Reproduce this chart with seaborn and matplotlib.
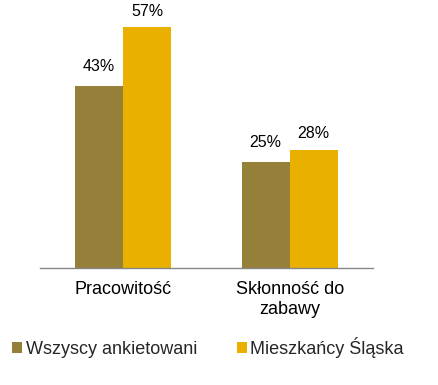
import matplotlib
matplotlib.use("Agg")
import matplotlib.pyplot as plt
import seaborn as sns
import pandas as pd
from matplotlib.patches import Patch

categories = ["Pracowitość", "Skłonność do\nzabawy"]
series_names = ["Wszyscy ankietowani", "Mieszkańcy Śląska"]
values_all = [43, 25]
values_silesia = [57, 28]
colors = ["#95803A", "#E9B000"]

df = pd.DataFrame({
    "category": categories * 2,
    "series": [series_names[0]] * 2 + [series_names[1]] * 2,
    "value": values_all + values_silesia,
})

sns.set_style("white")
plt.rcParams["font.family"] = ["Liberation Sans", "DejaVu Sans"]

fig = plt.figure(figsize=(4.38, 3.85), dpi=100)
ax = fig.add_axes([40 / 438, (385 - 268) / 385, (373 - 40) / 438, 268 / 385])

sns.barplot(data=df, x="category", y="value", hue="series", order=categories,
            hue_order=series_names, palette=colors, width=0.577, ax=ax,
            saturation=1, legend=False, linewidth=0, edgecolor="none")

ax.set_xlim(-0.5, 1.5)
ax.set_ylim(0, 63.4)
ax.set_xlabel("")
ax.set_ylabel("")
ax.set_yticks([])

for s in ["top", "right", "left"]:
    ax.spines[s].set_visible(False)
ax.spines["bottom"].set_color("#868686")
ax.spines["bottom"].set_linewidth(1)

ax.set_xticks([-0.5, 0.5, 1.5], minor=True)
ax.tick_params(axis="x", which="minor", length=5, color="#868686", width=1)
ax.tick_params(axis="x", which="major", length=0, pad=9, labelsize=13, labelcolor="#000000")
for lbl in ax.get_xticklabels():
    lbl.set_linespacing(1.3)

pads = [8.6, 6.0]
for i, cont in enumerate(ax.containers):
    ax.bar_label(cont, fmt="%d%%", padding=pads[i], fontsize=11.5, color="#000000")

handles = [Patch(facecolor=c, edgecolor="none") for c in colors]
fig.legend(handles, series_names, loc="center left",
           bbox_to_anchor=(12 / 438, (385 - 347) / 385),
           ncol=2, frameon=False, fontsize=13, handlelength=0.55, handleheight=0.55,
           handletextpad=0.2, columnspacing=2.2, borderaxespad=0, borderpad=0)

fig.savefig("out.png", dpi=100)
